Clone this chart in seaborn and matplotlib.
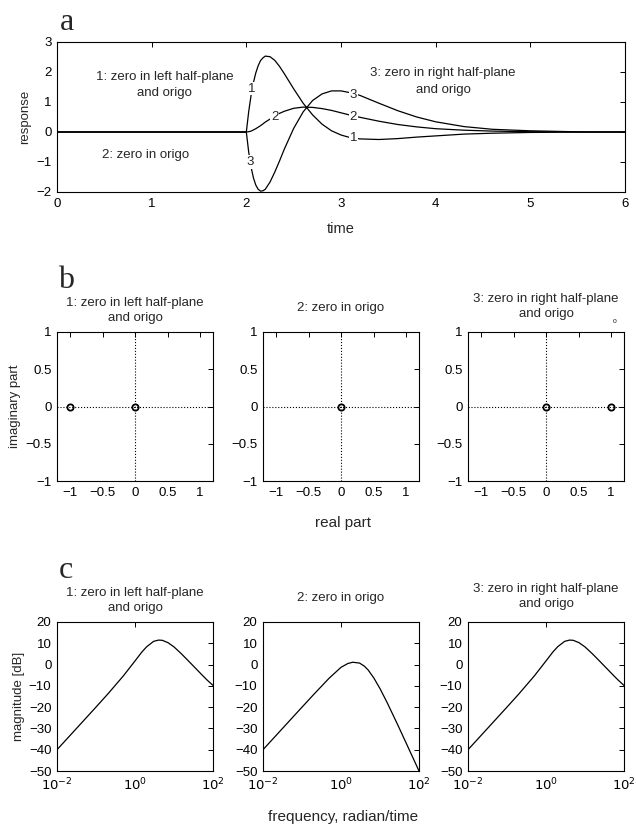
import matplotlib
matplotlib.use("Agg")
import matplotlib.pyplot as plt
import seaborn as sns

# ---- panel a: step responses ----
time = [0, 2.0, 2.025, 2.05, 2.075, 2.1, 2.125, 2.15, 2.175, 2.2, 2.25, 2.3, 2.35, 2.4,
        2.5, 2.6, 2.7, 2.8, 2.9, 3.0, 3.1, 3.2, 3.4, 3.6, 3.8, 4.0, 4.3, 4.6, 5.0, 5.6, 6.0]
resp_1 = [0, 0, 0.68, 1.22, 1.65, 1.97, 2.21, 2.38, 2.47, 2.53, 2.51, 2.39, 2.19, 1.95,
          1.44, 0.96, 0.57, 0.26, 0.04, -0.10, -0.19, -0.23, -0.25, -0.22, -0.17, -0.13,
          -0.07, -0.04, -0.015, 0, 0]
resp_2 = [0, 0, 0.01, 0.03, 0.07, 0.11, 0.16, 0.21, 0.27, 0.33, 0.43, 0.54, 0.62, 0.69,
          0.79, 0.83, 0.82, 0.78, 0.72, 0.64, 0.56, 0.49, 0.36, 0.25, 0.17, 0.11, 0.06,
          0.03, 0.01, 0, 0]
resp_3 = [0, 0, -0.67, -1.17, -1.53, -1.77, -1.91, -1.97, -1.96, -1.91, -1.67, -1.34,
          -0.97, -0.58, 0.12, 0.67, 1.05, 1.27, 1.37, 1.37, 1.31, 1.22, 0.96, 0.71, 0.50,
          0.34, 0.18, 0.09, 0.04, 0, 0]
curve_labels = [("1", 2.06, 1.45), ("2", 2.30, 0.50), ("3", 2.04, -1.00),
                ("3", 3.13, 1.22), ("2", 3.13, 0.50), ("1", 3.13, -0.20)]

# ---- panel b: zeros in the complex plane ----
zeros_re = [[-1, 0], [0], [0, 1]]
zeros_im = [[0, 0], [0], [0, 0]]

# ---- panel c: bode magnitude ----
freq = [0.01, 0.02, 0.05, 0.1, 0.2, 0.5, 1, 1.5, 2, 3, 4, 5, 7, 10, 15, 20, 30, 50, 70, 100]
mag_1 = [-40.0, -33.98, -26.01, -19.97, -13.86, -5.37, 1.7, 5.9, 8.4, 10.9, 11.5, 11.4,
         10.3, 8.3, 5.3, 3.0, -0.3, -4.5, -7.2, -9.8]
mag_2 = [-40.0, -33.98, -26.02, -20.01, -14.03, -6.34, -1.3, 0.5, 1.1, 0.7, -0.8, -2.6,
         -6.4, -11.3, -17.6, -22.4, -29.2, -38.0, -43.8, -50.0]
mag_3 = mag_1

titles = ["1: zero in left half-plane\nand origo", "2: zero in origo",
          "3: zero in right half-plane\nand origo"]

sns.set_theme(style="white")
plt.rcParams["font.family"] = ["Liberation Sans", "DejaVu Sans"]
plt.rcParams["axes.edgecolor"] = "black"
plt.rcParams["axes.linewidth"] = 0.8

W, H = 636, 825
FS = 9.5


def box(l, t, r, b):
    return [l / W, 1 - b / H, (r - l) / W, (b - t) / H]


def style(ax):
    ax.tick_params(direction="in", top=True, right=True, length=3.5, width=0.7,
                   labelsize=FS, colors="black", pad=4)
    for s in ax.spines.values():
        s.set_visible(True)
        s.set_color("black")
        s.set_linewidth(0.8)


fig = plt.figure(figsize=(W / 100, H / 100), dpi=100)

# panel a
ax = fig.add_axes(box(57, 42, 625, 192))
for y in (resp_1, resp_2, resp_3):
    sns.lineplot(x=time, y=y, ax=ax, color="black", lw=0.9, sort=False)
for txt, x, y in curve_labels:
    ax.text(x, y, txt, ha="center", va="center", fontsize=FS,
            bbox=dict(facecolor="white", edgecolor="none", pad=0.6))
ax.text(1.14, 1.83, "1: zero in left half-plane", ha="center", va="center", fontsize=FS)
ax.text(1.14, 1.30, "and origo", ha="center", va="center", fontsize=FS)
ax.text(0.94, -0.77, "2: zero in origo", ha="center", va="center", fontsize=FS)
ax.text(4.08, 1.97, "3: zero in right half-plane", ha="center", va="center", fontsize=FS)
ax.text(4.08, 1.40, "and origo", ha="center", va="center", fontsize=FS)
ax.set_xlim(0, 6)
ax.set_ylim(-2, 3)
ax.set_xticks(range(0, 7))
ax.set_yticks(range(-2, 4))
ax.set_yticklabels(["\u22122", "\u22121", "0", "1", "2", "3"])
ax.set_xlabel("time", fontsize=10.5, labelpad=9)
ax.set_ylabel("response", fontsize=FS, labelpad=4)
style(ax)

# panel b
lefts = [57, 263, 468]
b_title_y = [(303, 318), (308,), (299, 314)]
for i, l in enumerate(lefts):
    ax = fig.add_axes(box(l, 332, l + 156, 481))
    ax.axhline(0, color="black", ls=":", lw=0.8)
    ax.axvline(0, color="black", ls=":", lw=0.8)
    ax.plot(zeros_re[i], zeros_im[i], "o", mfc="none", mec="black", ms=4.5, mew=1.3)
    ax.set_xlim(-1.2, 1.2)
    ax.set_ylim(-1, 1)
    ax.set_xticks([-1, -0.5, 0, 0.5, 1])
    ax.set_xticklabels(["\u22121", "\u22120.5", "0", "0.5", "1"])
    ax.set_yticks([-1, -0.5, 0, 0.5, 1])
    ax.set_yticklabels(["\u22121", "\u22120.5", "0", "0.5", "1"])
    style(ax)
    for line, yy in zip(titles[i].split("\n"), b_title_y[i]):
        fig.text((l + 78) / W, 1 - yy / H, line, ha="center", va="center", fontsize=FS)
    if i == 0:
        ax.set_ylabel("imaginary part", fontsize=FS, labelpad=3)
    if i == 2:
        ax.text(1.06, 1.14, "o", ha="center", va="center", fontsize=5, clip_on=False)
fig.text(343 / W, 1 - 523 / H, "real part", ha="center", va="center", fontsize=11)

# panel c
c_title_y = [(593, 608), (598,), (589, 604)]
for i, (l, m) in enumerate(zip(lefts, (mag_1, mag_2, mag_3))):
    ax = fig.add_axes(box(l, 622, l + 156, 771))
    sns.lineplot(x=freq, y=m, ax=ax, color="black", lw=0.9, sort=False)
    ax.set_xscale("log")
    ax.set_xlim(0.01, 100)
    ax.set_ylim(-50, 20)
    ax.set_xticks([0.01, 1, 100])
    ax.set_xticklabels([r"$10^{-2}$", r"$10^{0}$", r"$10^{2}$"])
    ax.xaxis.set_minor_locator(matplotlib.ticker.NullLocator())
    ax.set_yticks(range(-50, 21, 10))
    ax.set_yticklabels(["\u221250", "\u221240", "\u221230", "\u221220", "\u221210",
                        "0", "10", "20"])
    style(ax)
    for line, yy in zip(titles[i].split("\n"), c_title_y[i]):
        fig.text((l + 78) / W, 1 - yy / H, line, ha="center", va="center", fontsize=FS)
    if i == 0:
        ax.set_ylabel("magnitude [dB]", fontsize=FS, labelpad=3)
fig.text(343 / W, 1 - 817 / H, "frequency, radian/time", ha="center", va="center",
         fontsize=11)

# panel letters
serif = ["Liberation Serif", "DejaVu Serif"]
fig.text(67 / W, 1 - 22 / H, "a", ha="center", va="center", fontsize=23, family=serif)
fig.text(66 / W, 1 - 281 / H, "b", ha="center", va="center", fontsize=23, family=serif)
fig.text(66 / W, 1 - 571 / H, "c", ha="center", va="center", fontsize=23, family=serif)

fig.savefig("out.png", dpi=100)
